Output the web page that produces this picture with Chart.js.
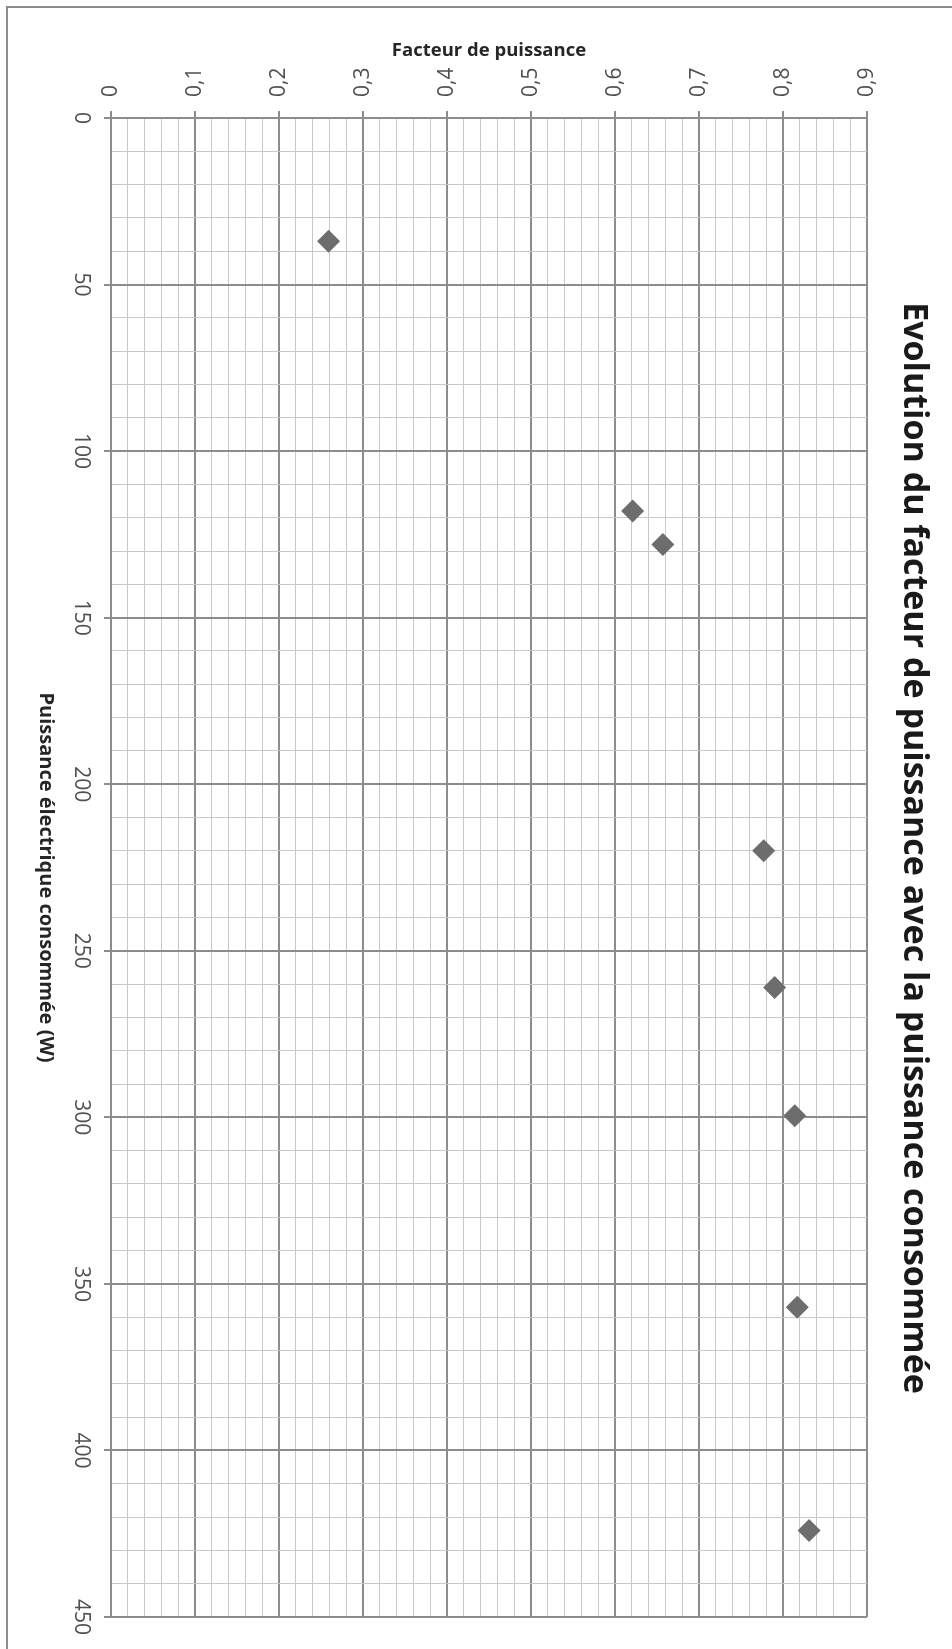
<!DOCTYPE html>
<html>
<head>
<meta charset="utf-8">
<title>Evolution du facteur de puissance</title>
<script src="https://cdn.jsdelivr.net/npm/chart.js@4.4.1/dist/chart.umd.min.js"></script>
<style>
    html, body { margin: 0; padding: 0; background: #fff; overflow: hidden; }
    #wrap { position: relative; width: 952px; height: 1649px; }
</style>
</head>
<body>
<div id="wrap"><canvas id="pfChart"></canvas></div>
<script>
// Valeurs
const puissanceW = [37, 118, 128, 220, 261, 299.5, 357, 424];
const facteurPuissance = [0.259, 0.621, 0.657, 0.777, 0.790, 0.814, 0.817, 0.831];

// Etiquettes des axes
const facteurLabels = ['0', '0,1', '0,2', '0,3', '0,4', '0,5', '0,6', '0,7', '0,8', '0,9'];
const puissanceLabels = ['0', '50', '100', '150', '200', '250', '300', '350', '400', '450'];

const chartTitle = 'Evolution du facteur de puissance avec la puissance consommée';
const xTitle = 'Facteur de puissance';
const yTitle = 'Puissance électrique consommée (W)';

const GRID_MAJOR = '#8c8c8c';
const GRID_MINOR = '#c8c8c8';
const TICK_COLOR = '#505050';

function isMajorFactor(v) { return Math.abs(v * 10 - Math.round(v * 10)) < 1e-6; }
function isMajorPower(v) { return Math.abs(v / 50 - Math.round(v / 50)) < 1e-6; }

// cadre gris autour du graphique
const framePlugin = {
    id: 'frame',
    beforeDraw(chart) {
        const ctx = chart.ctx;
        ctx.save();
        ctx.fillStyle = '#fff';
        ctx.fillRect(0, 0, chart.width, chart.height);
        ctx.strokeStyle = GRID_MAJOR;
        ctx.lineWidth = 2;
        ctx.strokeRect(7, 7, chart.width + 20, chart.height + 20);
        ctx.restore();
    }
};

// titre de l'axe vertical, lu de haut en bas
const yTitlePlugin = {
    id: 'yTitle',
    afterDraw(chart) {
        const ctx = chart.ctx;
        const area = chart.chartArea;
        ctx.save();
        ctx.translate(46, (area.top + area.bottom) / 2 + 10);
        ctx.rotate(Math.PI / 2);
        ctx.font = 'bold 20px "Open Sans"';
        ctx.fillStyle = '#262626';
        ctx.textAlign = 'center';
        ctx.textBaseline = 'middle';
        ctx.fillText(yTitle, 0, 0);
        ctx.restore();
    }
};

const points = puissanceW.map((p, i) => ({ x: facteurPuissance[i], y: p }));

new Chart(document.getElementById('pfChart'), {
    type: 'scatter',
    data: {
        datasets: [{
            data: points,
            pointStyle: 'rectRot',
            pointRadius: 11.5,
            pointHoverRadius: 11.5,
            backgroundColor: '#6d6d6d',
            borderWidth: 0
        }]
    },
    options: {
        responsive: true,
        maintainAspectRatio: false,
        animation: false,
        events: [],
        layout: { padding: { top: 79, bottom: 32, left: 0, right: 0 } },
        plugins: {
            legend: { display: false },
            tooltip: { enabled: false },
            title: {
                display: true,
                position: 'right',
                text: chartTitle,
                color: '#1a1a1a',
                font: { family: '"Open Sans"', size: 34, weight: 'bold' },
                padding: { top: 17.6, bottom: 26.6 }
            }
        },
        scales: {
            x: {
                type: 'linear',
                position: 'top',
                min: 0,
                max: 0.9,
                afterFit: s => { s.height = 39; },
                ticks: {
                    stepSize: 0.02,
                    autoSkip: false,
                    minRotation: 90,
                    maxRotation: 90,
                    // mirror évite le découpage des étiquettes hors de la boîte de l'axe
                    mirror: true,
                    padding: -21,
                    labelOffset: 0,
                    color: TICK_COLOR,
                    font: { family: '"Open Sans"', size: 21 },
                    callback: v => isMajorFactor(v) ? facteurLabels[Math.round(v * 10)] : ''
                },
                grid: {
                    color: c => isMajorFactor(c.tick.value) ? GRID_MAJOR : GRID_MINOR,
                    lineWidth: c => isMajorFactor(c.tick.value) ? 2 : 1,
                    tickColor: c => isMajorFactor(c.tick.value) ? GRID_MAJOR : 'rgba(0,0,0,0)',
                    tickLength: 7
                },
                border: { display: true, color: GRID_MAJOR, width: 2 },
                title: {
                    display: true,
                    text: xTitle,
                    color: '#262626',
                    font: { family: '"Open Sans"', size: 18.5, weight: 'bold' },
                    padding: { top: -39, bottom: 0 }
                }
            },
            y: {
                type: 'linear',
                position: 'left',
                reverse: true,
                min: 0,
                max: 450,
                afterFit: s => { s.width = 111; },
                ticks: {
                    stepSize: 10,
                    autoSkip: false,
                    minRotation: -90,
                    maxRotation: -90,
                    crossAlign: 'center',
                    padding: 5,
                    color: TICK_COLOR,
                    font: { family: '"Open Sans"', size: 21 },
                    callback: v => isMajorPower(v) ? puissanceLabels[Math.round(v / 50)] : ''
                },
                grid: {
                    color: c => isMajorPower(c.tick.value) ? GRID_MAJOR : GRID_MINOR,
                    lineWidth: c => isMajorPower(c.tick.value) ? 2 : 1,
                    tickColor: c => isMajorPower(c.tick.value) ? GRID_MAJOR : 'rgba(0,0,0,0)',
                    tickLength: 7
                },
                border: { display: true, color: GRID_MAJOR, width: 2 },
                title: { display: false }
            }
        }
    },
    plugins: [framePlugin, yTitlePlugin]
});
</script>
</body>
</html>
